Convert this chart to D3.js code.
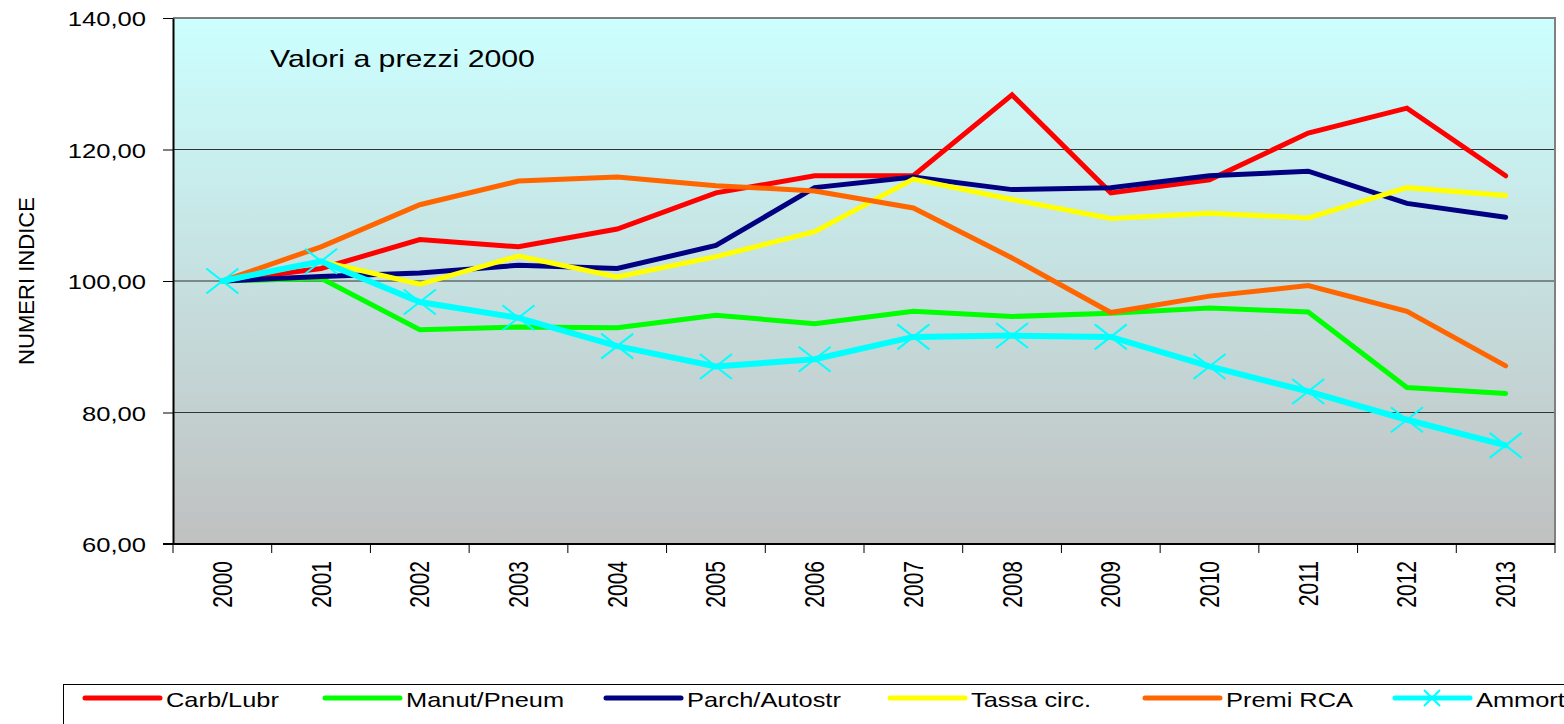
<!DOCTYPE html>
<html>
<head>
<meta charset="utf-8">
<title>Numeri indice - valori a prezzi 2000</title>
<script src="https://cdnjs.cloudflare.com/ajax/libs/d3/7.8.5/d3.min.js"></script>
<style>
body { margin: 0; background: #fff; }
text { font-family: "Liberation Sans", Arial, sans-serif; fill: #000; }
</style>
</head>
<body>
<div id="chart"></div>
<script>
// years on the x axis
var years = ["2000","2001","2002","2003","2004","2005","2006","2007","2008","2009","2010","2011","2012","2013"];

// series values (index numbers, 2000 = 100)
var carbLubr   = [100, 101.9, 106.3, 105.2, 107.9, 113.4, 116.0, 116.0, 128.3, 113.4, 115.4, 122.5, 126.3, 116.0];
var manutPneum = [100, 100.4, 92.6, 93.0, 92.9, 94.8, 93.5, 95.4, 94.6, 95.1, 95.9, 95.3, 83.8, 82.9];
var parchAuto  = [100, 100.7, 101.2, 102.4, 101.9, 105.4, 114.2, 115.8, 113.9, 114.2, 116.0, 116.7, 111.8, 109.7];
var tassaCirc  = [100, 103.0, 99.5, 103.8, 100.6, 103.7, 107.5, 115.5, 112.4, 109.5, 110.3, 109.6, 114.2, 113.0];
var premiRca   = [100, 105.2, 111.6, 115.2, 115.8, 114.5, 113.7, 111.1, 103.5, 95.2, 97.7, 99.3, 95.4, 87.1];
var ammort     = [100, 103.0, 96.8, 94.4, 90.1, 87.0, 88.1, 91.5, 91.7, 91.5, 87.0, 83.2, 78.9, 75.0];

var seriesNames = ["Carb/Lubr", "Manut/Pneum", "Parch/Autostr", "Tassa circ.", "Premi RCA", "Ammort"];
var seriesValues = [carbLubr, manutPneum, parchAuto, tassaCirc, premiRca, ammort];
var seriesColors = ["#ff0000", "#00ff00", "#000080", "#ffff00", "#ff6600", "#00ffff"];

var yTicks = [60, 80, 100, 120, 140];
var gridTicks = [80, 100, 120];

var W = 1564, H = 724;
var plotL = 173, plotR = 1555, plotT = 18, plotB = 544;
var sx = 1.28; // the original picture is stretched wide, text too
var legSx = 1.21;
var legendX = [85, 325, 606, 890, 1145, 1395]; // where each legend key starts

var svg = d3.select("#chart").append("svg")
  .attr("width", W).attr("height", H);

var x = d3.scaleBand().domain(years).range([plotL, plotR]);
var y = d3.scaleLinear().domain([60, 140]).range([plotB, plotT]);

// background gradient of the plot area
var defs = svg.append("defs");
var grad = defs.append("linearGradient").attr("id", "bg")
  .attr("x1", 0).attr("y1", 0).attr("x2", 0).attr("y2", 1);
grad.append("stop").attr("offset", "0%").attr("stop-color", "#ccffff");
grad.append("stop").attr("offset", "100%").attr("stop-color", "#c0c0c0");

svg.append("rect")
  .attr("x", plotL).attr("y", plotT)
  .attr("width", plotR - plotL).attr("height", plotB - plotT)
  .attr("fill", "url(#bg)");

// gridlines
svg.selectAll(".grid").data(gridTicks).enter().append("line")
  .attr("class", "grid")
  .attr("x1", plotL).attr("x2", plotR)
  .attr("y1", d => y(d)).attr("y2", d => y(d))
  .attr("stroke", "#333").attr("stroke-width", 1);

// top and right border of plot
svg.append("path")
  .attr("d", "M" + plotL + "," + plotT + "H" + plotR + "V" + plotB)
  .attr("fill", "none").attr("stroke", "#808080").attr("stroke-width", 2);

// y axis
var yAxis = d3.axisLeft(y)
  .tickValues(yTicks)
  .tickSizeInner(10).tickSizeOuter(0)
  .tickFormat(d => d.toFixed(2).replace(".", ","));
var gy = svg.append("g").attr("transform", "translate(" + plotL + ",0)").call(yAxis);
gy.select(".domain").attr("stroke", "#000").attr("stroke-width", 2);
gy.selectAll(".tick line").attr("stroke", "#000");
gy.selectAll(".tick text")
  .attr("x", 0).attr("dy", "0.38em")
  .attr("transform", "translate(-27,0) scale(" + sx + ",1)")
  .style("font-size", "20px").style("font-family", "'Liberation Sans', Arial, sans-serif");

// x axis: labels at band centres, ticks at band edges
var xAxis = d3.axisBottom(x).tickSize(0);
var gx = svg.append("g").attr("transform", "translate(0," + plotB + ")").call(xAxis);
gx.select(".domain").remove();
gx.selectAll(".tick text")
  .attr("x", 0).attr("y", 0).attr("dy", null)
  .attr("text-anchor", "end")
  .attr("dominant-baseline", "central")
  .attr("transform", "translate(0,17) scale(" + sx + ",1) rotate(-90)")
  .style("font-size", "21px").style("font-family", "'Liberation Sans', Arial, sans-serif");

svg.append("line")
  .attr("x1", plotL - 10).attr("x2", plotR)
  .attr("y1", plotB).attr("y2", plotB)
  .attr("stroke", "#000").attr("stroke-width", 2);

var edges = years.map(d => x(d)).concat([x(years[years.length - 1]) + x.step()]);
svg.selectAll(".xtick").data(edges).enter().append("line")
  .attr("class", "xtick")
  .attr("x1", d => d).attr("x2", d => d)
  .attr("y1", plotB).attr("y2", plotB + 9)
  .attr("stroke", "#000").attr("stroke-width", 1);

// lines
var line = d3.line()
  .x((d, i) => x(years[i]) + x.bandwidth() / 2)
  .y(d => y(d));

seriesValues.forEach(function(vals, k) {
  svg.append("path")
    .datum(vals)
    .attr("d", line)
    .attr("fill", "none")
    .attr("stroke", seriesColors[k])
    .attr("stroke-width", k === 5 ? 6 : 5)
    .attr("stroke-linejoin", "miter")
    .attr("stroke-linecap", "round");
});

// X markers on Ammort
function xMark(w, h) {
  return "M" + (-w) + "," + (-h) + "L" + w + "," + h + "M" + (-w) + "," + h + "L" + w + "," + (-h);
}
svg.selectAll(".mark").data(ammort).enter().append("path")
  .attr("class", "mark")
  .attr("transform", (d, i) => "translate(" + (x(years[i]) + x.bandwidth() / 2) + "," + y(d) + ")")
  .attr("d", xMark(16, 12.5))
  .attr("fill", "none").attr("stroke", "#00ffff").attr("stroke-width", 2);

// plot note
svg.append("text")
  .attr("transform", "translate(270,67) scale(1.26,1)")
  .style("font-size", "24px")
  .text("Valori a prezzi 2000");

// y axis title
svg.append("text")
  .attr("transform", "translate(26,281) scale(" + sx + ",1) rotate(-90)")
  .attr("text-anchor", "middle")
  .attr("dominant-baseline", "central")
  .attr("textLength", 168).attr("lengthAdjust", "spacingAndGlyphs")
  .style("font-size", "17px")
  .text("NUMERI INDICE");

// legend
svg.append("rect")
  .attr("x", 63.5).attr("y", 684.5)
  .attr("width", 1540).attr("height", 80)
  .attr("fill", "#fff").attr("stroke", "#000").attr("stroke-width", 1);

var ly = 698;
seriesNames.forEach(function(name, k) {
  var lx = legendX[k];
  var g = svg.append("g");
  g.append("line")
    .attr("x1", lx).attr("x2", lx + 75)
    .attr("y1", ly).attr("y2", ly)
    .attr("stroke", seriesColors[k]).attr("stroke-width", 5)
    .attr("stroke-linecap", "round");
  if (k === 5) {
    g.append("path")
      .attr("transform", "translate(" + (lx + 37) + "," + ly + ")")
      .attr("d", xMark(8, 8))
      .attr("fill", "none").attr("stroke", seriesColors[k]).attr("stroke-width", 2);
  }
  g.append("text")
    .attr("transform", "translate(" + (lx + 81) + "," + (ly + 9) + ") scale(" + legSx + ",1)")
    .style("font-size", "21px")
    .text(name);
});
</script>
</body>
</html>
